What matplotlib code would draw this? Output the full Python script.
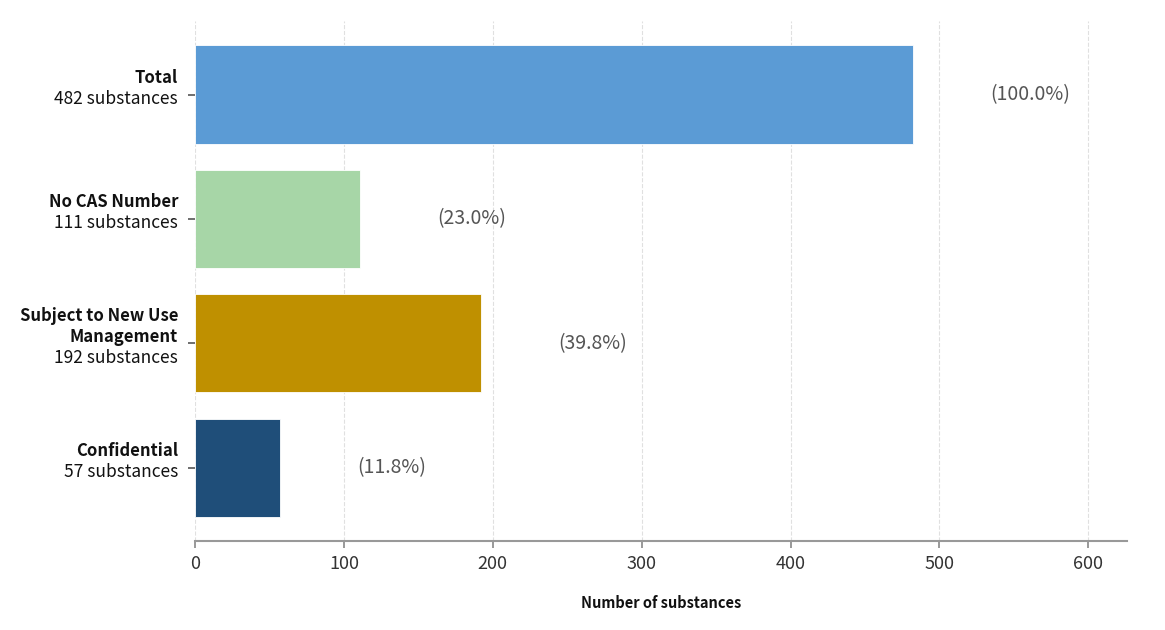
import matplotlib.pyplot as plt
from matplotlib.transforms import blended_transform_factory

# categories (top to bottom), counts, shares
cat_names = ["Total", "No CAS Number", "Subject to New Use\nManagement", "Confidential"]
counts = [482, 111, 192, 57]
shares = ["(100.0%)", "(23.0%)", "(39.8%)", "(11.8%)"]
colors = ["#5B9BD5", "#A7D6A7", "#BF9000", "#1F4E79"]
xticks = [0, 100, 200, 300, 400, 500, 600]

plt.rcParams['font.family'] = ['Noto Sans CJK SC', 'DejaVu Sans']

fig = plt.figure(figsize=(11.65, 6.30), dpi=100)
ax = fig.add_axes([0.1674, 0.1413, 0.80, 0.825])

ypos = list(range(len(counts)))
ax.barh(ypos, counts, height=0.79, color=colors, edgecolor="white", linewidth=0.6, zorder=2)

ax.set_xlim(0, 626)
ax.set_ylim(3.59, -0.59)
ax.set_xticks(xticks)
ax.set_xticklabels([str(t) for t in xticks], fontsize=13, color="#333333")
ax.set_yticks(ypos)
ax.set_yticklabels([])
ax.tick_params(axis='x', length=5, width=1.2, color="#888888", pad=5)
ax.tick_params(axis='y', length=5, width=1.2, color="#555555", pad=2)

ax.grid(axis='x', linestyle='--', color="#e0e0e0", linewidth=0.8, zorder=0)
for s in ["top", "right", "left"]:
    ax.spines[s].set_visible(False)
ax.spines["bottom"].set_color("#999999")
ax.spines["bottom"].set_linewidth(1.5)

# y labels: bold name lines + normal count line
trans = blended_transform_factory(ax.transAxes, ax.transData)
line_h = 21
for y, name, n in zip(ypos, cat_names, counts):
    lines = [(ln, "bold") for ln in name.split("\n")] + [(f"{n} substances", "normal")]
    k = len(lines)
    for i, (txt, w) in enumerate(lines):
        off = 6 - (i - (k - 1) / 2) * line_h
        ax.annotate(txt, xy=(0, y), xycoords=trans, xytext=(-17, off), textcoords='offset pixels',
                    ha='right', va='center', fontsize=12 if w == "bold" else 12.5,
                    fontweight=w, color="#111111")

# percentage labels
for y, n, s in zip(ypos, counts, shares):
    ax.text(n + 52, y, s, ha='left', va='center', fontsize=14, color="#555555")

ax.set_xlabel("Number of substances", fontsize=10.5, fontweight='bold', labelpad=16, color="#111111")

fig.savefig("out.png", dpi=100)
